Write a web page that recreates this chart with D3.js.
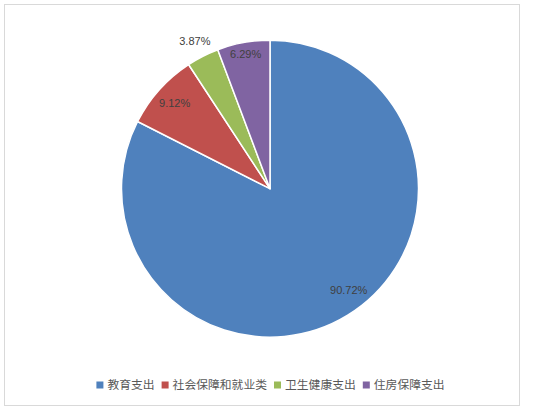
<!DOCTYPE html>
<html><head><meta charset="utf-8">
<script src="https://cdn.jsdelivr.net/npm/d3@7"></script>
<style>body{margin:0;background:#fff}svg{display:block}</style>
</head><body>
<script>
const categories = ["教育支出", "社会保障和就业类", "卫生健康支出", "住房保障支出"];
const values = [90.72, 9.12, 3.87, 6.29];
const labels = ["90.72%", "9.12%", "3.87%", "6.29%"];
const colors = ["#4F81BD", "#C0504D", "#9BBB59", "#8064A2"];

const W = 541, H = 410;
const svg = d3.select("body").append("svg").attr("width", W).attr("height", H);
svg.append("rect").attr("x", 4.5).attr("y", 4.5).attr("width", 515).attr("height", 401)
  .attr("fill", "#fff").attr("stroke", "#d9d9d9").attr("stroke-width", 1);

const cx = 270, cy = 188.7, R = 148.5;
const data = categories.map((c, i) => ({c, v: values[i], label: labels[i], color: colors[i]}));
const pie = d3.pie().value(d => d.v).sort(null).startAngle(0).endAngle(2 * Math.PI);
const arcs = pie(data);
const arc = d3.arc().innerRadius(0).outerRadius(R);
const g = svg.append("g").attr("transform", `translate(${cx},${cy})`);
g.selectAll("path").data(arcs).join("path")
  .attr("d", arc).attr("fill", d => d.data.color)
  .attr("stroke", "#fff").attr("stroke-width", 1.5).attr("stroke-linejoin", "round");

// label placement: inside near the edge, small slices outside
const nudge = {"教育支出": -6.4 * Math.PI / 180};
g.selectAll("text").data(arcs).join("text")
  .attr("transform", d => {
    const frac = (d.endAngle - d.startAngle) / (2 * Math.PI);
    let a = (d.startAngle + d.endAngle) / 2 + (nudge[d.data.c] || 0);
    let r = frac < 0.04 ? R + 17.5 : (frac < 0.07 ? R * 0.918 : R * 0.862);
    return `translate(${r * Math.sin(a)},${-r * Math.cos(a)})`;
  })
  .attr("text-anchor", "middle").attr("dy", "0.35em")
  .attr("font-family", "'Liberation Sans', Arial, sans-serif").attr("font-size", 11)
  .attr("fill", "#404040").text(d => d.data.label);

// legend
const lg = svg.append("g");
let x = 0;
const items = [];
data.forEach(d => {
  const it = lg.append("g");
  it.append("rect").attr("x", 0).attr("y", -3.5).attr("width", 7).attr("height", 7).attr("fill", d.color);
  const t = it.append("text").attr("x", 11).attr("dy", "0.35em")
    .attr("font-family", "'Noto Sans CJK SC', sans-serif").attr("font-size", 11.8)
    .attr("fill", "#595959").text(d.c);
  const w = 11 + t.node().getComputedTextLength();
  it.attr("transform", `translate(${x},0)`);
  x += w + 7;
});
const total = x - 7;
lg.attr("transform", `translate(${270.5 - total / 2},385)`);
</script>
</body></html>
